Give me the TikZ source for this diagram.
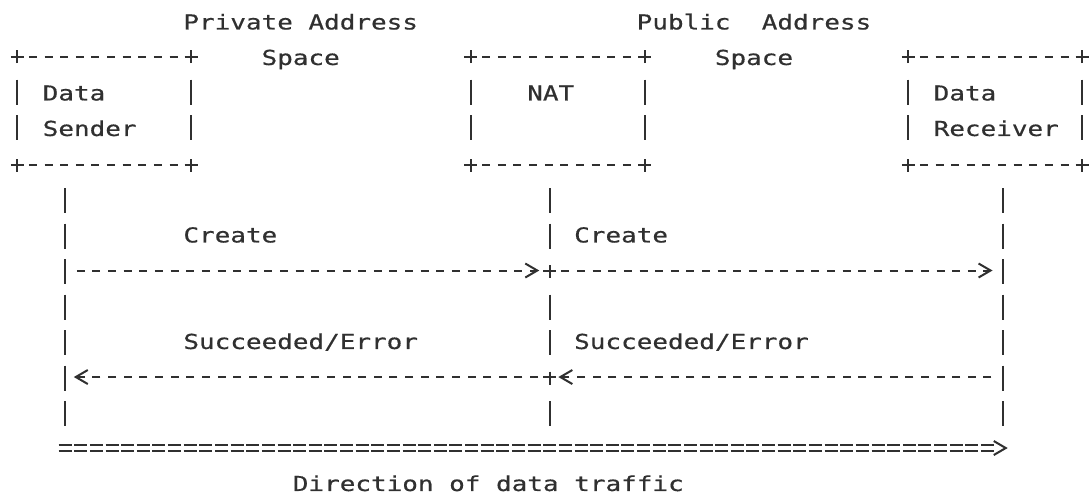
\documentclass[tikz,border=0pt]{standalone}
\usepackage{fontspec}
\newfontfamily\asciimono[FakeStretch=1.262,FakeBold=0.5]{DejaVu Sans Mono}
\usetikzlibrary{arrows.meta}
\definecolor{ink}{RGB}{48,48,48}

\begin{document}
\begin{tikzpicture}[
    x=7.815pt, y=-17.75pt,
    line width=1pt, color=ink,
    txt/.style={font=\asciimono\fontsize{10.29}{12}\selectfont,
                inner sep=0pt, anchor=base west},
    box/.style={rectangle, inner sep=0pt,
                minimum width=85.965pt, minimum height=53.25pt},
    hline/.style={dash pattern=on 4pt off 3.815pt, dash phase=2pt},
    vline/.style={dash pattern=on 12.5pt off 5.25pt, dash phase=15.125pt,
                  shorten <=8.875pt, shorten >=8.875pt},
    life/.style={dash pattern=on 12.5pt off 5.25pt, dash phase=15.125pt,
                 shorten <=8.875pt},
    natlife/.style={dash pattern=on 12.5pt off 5.25pt on 12.5pt off 8.25pt
                    on 6.5pt off 8.25pt, dash phase=50.625pt, shorten <=8.875pt},
    tip/.style={-{Straight Barb[length=6pt,width=7pt]}},
    msg/.style={tip, dash pattern=on 4pt off 3.815pt, dash phase=5.9075pt,
                shorten <=3.9075pt},
    eqdash/.style={arrows=-, dash pattern=on 6.5pt off 1.315pt,
                   dash phase=7.1575pt, shorten >=6pt},
    flow/.style={
      preaction={draw, eqdash, transform canvas={yshift=1.5pt}},
      preaction={draw, eqdash, transform canvas={yshift=-1.5pt}},
      draw, tip, dash pattern=on 0pt off 2000pt},
  ]

  \fill[white] (-1.171,0.38) rectangle (68.50,14.465);
  \useasboundingbox (-1.171,0.38) rectangle (68.50,14.465);

  % address spaces
  \node[txt] (priv-a) at (10.5,1.21) {Private Address};
  \node[txt] (priv-b) at (15.5,2.21) {Space};
  \node[txt] (pub-a)  at (39.5,1.21) {Public~~Address};
  \node[txt] (pub-b)  at (44.5,2.21) {Space};

  % the three parties
  \node[box] (sender)   at (5.5,3.5)  {};
  \node[box] (nat)      at (34.5,3.5) {};
  \node[box] (receiver) at (62.5,3.5) {};

  \node[txt] (sender-a)   at (1.5,3.21)  {Data};
  \node[txt] (sender-b)   at (1.5,4.21)  {Sender};
  \node[txt] (nat-a)      at (32.5,3.21) {NAT};
  \node[txt] (receiver-a) at (58.5,3.21) {Data};
  \node[txt] (receiver-b) at (58.5,4.21) {Receiver};

  \foreach \b in {sender,nat,receiver} {
    \draw[hline] (\b.north west) -- (\b.north east)
                 (\b.south west) -- (\b.south east);
    \draw[vline] (\b.north west) -- (\b.south west);
    \draw[vline] (\b.north east) -- (\b.south east);
    \foreach \a in {north west,north east,south west,south east}
      \draw (\b.\a) +(-3.25pt,0) -- +(3.25pt,0) +(0,-3.25pt) -- +(0,3.25pt);
  }

  % lifelines
  \coordinate (s-end) at (3,12.5);
  \coordinate (n-end) at (34,12.5);
  \coordinate (r-end) at (63,12.5);
  \draw[life]    (sender.south -| s-end) -- (s-end);
  \draw[natlife] (nat.south -| n-end) -- (n-end);
  \draw[life]    (receiver.south -| r-end) -- (r-end);

  \coordinate (s-create) at (3,8);
  \coordinate (n-create) at (34,8);
  \coordinate (r-create) at (63,8);
  \coordinate (s-reply)  at (3,11);
  \coordinate (n-reply)  at (34,11);
  \coordinate (r-reply)  at (63,11);
  \foreach \p in {n-create,n-reply}
    \draw (\p) +(-3.25pt,0) -- +(3.25pt,0);

  % messages
  \node[txt] (create-a) at (10.5,7.21) {Create};
  \node[txt] (create-b) at (35.5,7.21) {Create};
  \draw[msg, shorten >=5.24pt] (s-create) -- (n-create);
  \draw[msg, shorten >=5.24pt] (n-create) -- (r-create);

  \node[txt] (reply-a) at (10.5,10.21) {Succeeded/Error};
  \node[txt] (reply-b) at (35.5,10.21) {Succeeded/Error};
  \draw[msg, shorten >=4.3pt] (n-reply) -- (s-reply);
  \draw[msg, shorten >=4.3pt] (r-reply) -- (n-reply);

  % traffic direction
  \coordinate (flow-start) at (2.5,13);
  \coordinate (flow-end)   at (63.3,13);
  \draw[flow] (flow-start) -- (flow-end);
  \node[txt] (flow-l) at (17.5,14.21) {Direction of data traffic};

\end{tikzpicture}
\end{document}
